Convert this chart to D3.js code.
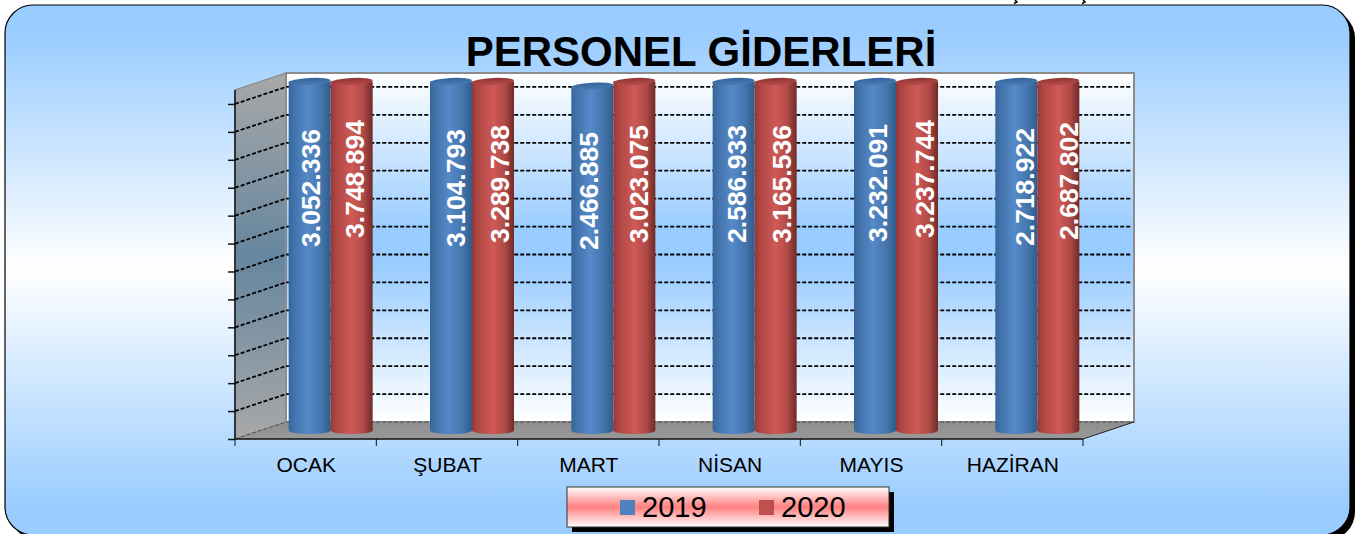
<!DOCTYPE html>
<html><head><meta charset="utf-8">
<script src="https://cdn.jsdelivr.net/npm/d3@7"></script>
<style>html,body{margin:0;padding:0;background:#fff;overflow:hidden}svg{display:block}text{font-family:"Liberation Sans",Arial,sans-serif}</style>
</head><body><svg id="c" width="1368" height="534"></svg>
<script>
const titleText = "PERSONEL GİDERLERİ";
const categories = ["OCAK","ŞUBAT","MART","NİSAN","MAYIS","HAZİRAN"];
const seriesNames = ["2019","2020"];
const values2019 = [3052336,3104793,2466885,2586933,3232091,2718922];
const values2020 = [3748894,3289738,3023075,3165536,3237744,2687802];
const axisMax = 2500000;
const axisStep = 200000;
const colors = {"2019":"#4f81bd","2020":"#c0504d"};
const labelNudgeX = {"2019":[1,5,-3,3,3,9],"2020":[3,7,5,6,8,11]};
const labelCenterY = {"2019":[188,188,191,184,183,187],"2020":[179,184,184,184,179,181]};

const fmt = v => d3.format(",")(v).replace(/,/g,".");
const svg = d3.select("#c");
const defs = svg.append("defs");
function grad(id, stops, horiz){
  const g = defs.append("linearGradient").attr("id",id)
    .attr("x1",0).attr("y1",0).attr("x2",horiz?1:0).attr("y2",horiz?0:1);
  stops.forEach(s=>g.append("stop").attr("offset",s[0]).attr("stop-color",s[1]));
}
grad("panel",[[0,"#99ccff"],[.05,"#99ccff"],[.5,"#ffffff"],[.95,"#99ccff"],[1,"#99ccff"]]);
grad("back",[[0,"#ffffff"],[.45,"#99ccff"],[.55,"#99ccff"],[1,"#ffffff"]]);
grad("side",[[0,"#a8a8a8"],[.5,"#66869f"],[1,"#a8a8a8"]]);
grad("floor",[[0,"#8e8e8e"],[1,"#999999"]]);
grad("legendBg",[[0,"#ffffff"],[.5,"#ff8080"],[1,"#ffffff"]]);
grad("bar2019",[[0,"#35659a"],[.12,"#4272aa"],[.45,"#5589c8"],[.75,"#4677af"],[1,"#2f5c8c"]],true);
grad("bar2020",[[0,"#93383a"],[.12,"#ad4542"],[.5,"#cf5a56"],[.78,"#b04a47"],[1,"#702a28"]],true);
grad("cap2019",[[0,"#34659b"],[1,"#4a7ab4"]]);
grad("cap2020",[[0,"#8f3634"],[1,"#b64a47"]]);

// panel
svg.append("rect").attr("x",10).attr("y",10).attr("width",1345).attr("height",530).attr("rx",28).attr("fill","#000");
svg.append("rect").attr("x",5).attr("y",5).attr("width",1345).attr("height",530).attr("rx",28)
  .attr("fill","url(#panel)").attr("stroke","#000").attr("stroke-width",1.2);
// clipped descenders of text above the frame
[1015,1083].forEach(x=>svg.append("path").attr("d",`M${x},0 l2,2 l-3,1.5`).attr("fill","none").attr("stroke","#000").attr("stroke-width",1.5));

svg.append("text").attr("x",701).attr("y",66).attr("text-anchor","middle")
  .attr("font-size",42).attr("font-weight","bold").attr("fill","#000").text(titleText);

// plot geometry
const L=235,R=1083,B=439,T=90,DX=51,DY=17;
const x = d3.scaleBand().domain(categories).range([L,R]);
const y = d3.scaleLinear().domain([0,axisMax]).range([B,T]).clamp(true);
const group = d3.scaleBand().domain(seriesNames).range([-42.5,41.5]);
const tickVals = d3.range(0,axisMax,axisStep);

// walls
svg.append("path").attr("d",`M${L},${B}L${L},${T}L${L+DX},${T-DY}L${L+DX},${B-DY}Z`)
  .attr("fill","url(#side)").attr("stroke","#909090").attr("stroke-width",1.5);
svg.append("rect").attr("x",L+DX).attr("y",T-DY).attr("width",R-L).attr("height",B-T)
  .attr("fill","url(#back)").attr("stroke","#8c8c8c").attr("stroke-width",2);
svg.append("path").attr("d",`M${L},${B}L${R},${B}L${R+DX},${B-DY}L${L+DX},${B-DY}Z`).attr("fill","url(#floor)");

// gridlines
const grid = svg.append("g").attr("fill","none").attr("stroke","#000").attr("stroke-dasharray","4 2");
grid.selectAll("path").data(tickVals).join("path")
  .attr("d",v=>`M${L},${y(v)}L${L+DX},${y(v)-DY}L${R+DX-2},${y(v)-DY}`)
  .attr("stroke-width",v=>v===0?0.8:1.8)
  .attr("stroke-opacity",v=>v===0?.6:1);
svg.append("path").attr("d",`M${R},${B}L${R+DX},${B-DY}`).attr("stroke","#222").attr("stroke-width",1).attr("fill","none");

// bars
const series = [{name:"2019",values:values2019},{name:"2020",values:values2020}];
const rx = group.bandwidth()/2, ry = 3.5, capTilt = -3;
const cx = (cat,name) => x(cat)+x.bandwidth()/2+DX/2+group(name)+group.bandwidth()/2;
const gS = svg.selectAll("g.s").data(series).join("g").attr("class","s");
const gB = gS.selectAll("g.b").data(s=>s.values.map((v,i)=>({v,i,name:s.name,cat:categories[i]}))).join("g").attr("class","b");
gB.append("path").attr("d",d=>{
  const c=cx(d.cat,d.name), yt=y(d.v)-DY/2, yb=y(0)-DY/2;
  return `M${c-rx},${yt}L${c-rx},${yb}A${rx},${ry} 0 0 0 ${c+rx},${yb}L${c+rx},${yt}Z`;
}).attr("fill",d=>`url(#bar${d.name})`);
gB.append("ellipse").attr("cx",0).attr("cy",0).attr("rx",rx).attr("ry",ry)
  .attr("transform",d=>`translate(${cx(d.cat,d.name)},${y(d.v)-DY/2}) rotate(${capTilt})`)
  .attr("fill",d=>`url(#cap${d.name})`);
gB.append("text")
  .attr("transform",d=>`translate(${cx(d.cat,d.name)+labelNudgeX[d.name][d.i]},${labelCenterY[d.name][d.i]}) rotate(-90)`)
  .attr("text-anchor","middle").attr("dominant-baseline","central")
  .attr("font-size",26.5).attr("font-weight","bold").attr("fill","#fff").text(d=>fmt(d.v));

// axes
const yAxis = d3.axisLeft(y).tickValues(tickVals).tickSize(7).tickFormat("");
const gy = svg.append("g").attr("transform",`translate(${L},0)`).call(yAxis);
gy.selectAll("path,line").attr("stroke","#111").attr("stroke-width",1.5);
gy.select(".domain").attr("d",`M0,${T}V${B}`);
const xAxis = d3.axisBottom(x).tickSize(0).tickPadding(17);
const gx = svg.append("g").attr("transform",`translate(0,${B})`).call(xAxis);
gx.select(".domain").attr("d",`M${L},0H${R}`).attr("stroke","#111").attr("stroke-width",1.5);
gx.selectAll("text").attr("font-size",21).attr("fill","#000").attr("font-family",'"Liberation Sans"')
  .attr("y",null).attr("dy",null).attr("transform","translate(0.5,33)");
gx.selectAll(".bound").data(d3.range(categories.length+1)).join("line").attr("class","bound")
  .attr("x1",i=>L+i*x.step()).attr("x2",i=>L+i*x.step()).attr("y1",0).attr("y2",7).attr("stroke","#111").attr("stroke-width",1);

// legend
const lg = svg.append("g");
lg.append("rect").attr("x",572).attr("y",492).attr("width",322).attr("height",40).attr("fill","#000");
lg.append("rect").attr("x",567).attr("y",487).attr("width",322).attr("height",40).attr("fill","url(#legendBg)").attr("stroke","#333").attr("stroke-width",1);
const lgX = d3.scaleOrdinal().domain(seriesNames).range([620,759]);
const li = lg.selectAll("g.i").data(seriesNames).join("g").attr("class","i").attr("transform",d=>`translate(${lgX(d)},500)`);
li.append("rect").attr("width",15).attr("height",15).attr("fill",d=>colors[d]);
li.append("text").attr("x",22).attr("y",16.5).attr("font-size",29).attr("fill","#000").text(d=>d);
</script></body></html>
